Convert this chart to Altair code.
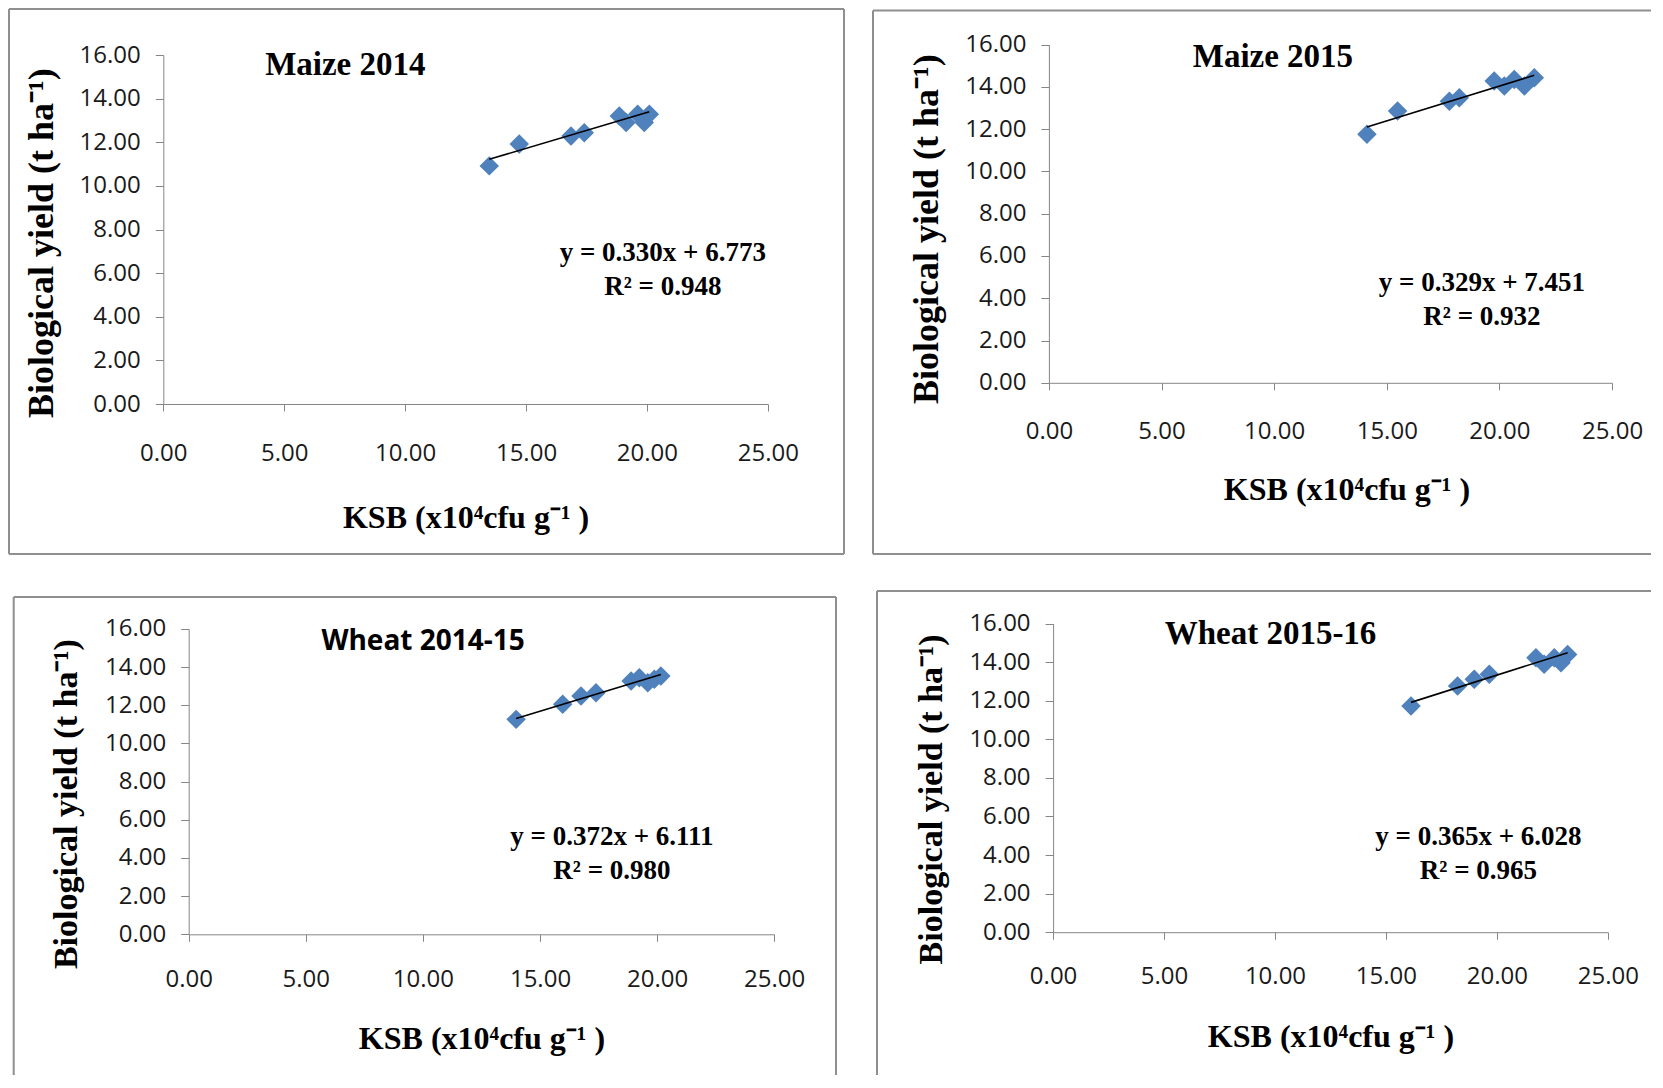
import altair as alt
import pandas as pd

# ---------------- data ----------------
maize14_x = [13.48, 14.72, 16.86, 17.41, 18.86, 19.14, 19.62, 19.89, 20.10]
maize14_y = [10.92, 11.92, 12.29, 12.44, 13.21, 12.91, 13.29, 12.91, 13.29]
maize14_fit = (0.330, 6.773, 0.948)

maize15_x = [14.12, 15.48, 17.78, 18.22, 19.77, 20.22, 20.66, 21.11, 21.55]
maize15_y = [11.75, 12.85, 13.32, 13.48, 14.27, 14.04, 14.35, 14.04, 14.43]
maize15_fit = (0.329, 7.451, 0.932)

wheat1415_x = [13.98, 15.97, 16.75, 17.39, 18.89, 19.24, 19.60, 19.88, 20.16]
wheat1415_y = [11.26, 12.05, 12.48, 12.66, 13.27, 13.44, 13.18, 13.36, 13.53]
wheat1415_fit = (0.372, 6.111, 0.980)

wheat1516_x = [16.13, 18.23, 18.98, 19.66, 21.76, 22.13, 22.59, 22.89, 23.19]
wheat1516_y = [11.73, 12.77, 13.11, 13.37, 14.23, 13.89, 14.23, 13.97, 14.40]
wheat1516_fit = (0.365, 6.028, 0.965)

x_ticks = [0, 5, 10, 15, 20, 25]
y_ticks = [0, 2, 4, 6, 8, 10, 12, 14, 16]
x_title = "KSB (x10\u2074cfu g\u207b\u00b9 )"
y_title = "Biological yield (t ha\u207b\u00b9)"

BLUE = "#4F81BD"
GREY = "#868686"
FRAME = "#8f8f8f"
SERIF = "Liberation Serif"
SANS = "Open Sans"


def one():
    return alt.Data(values=[{"k": 0}])


def hrule(x1, x2, y):
    return alt.Chart(one()).mark_rule(color=FRAME, strokeWidth=2).encode(
        x=alt.value(x1), x2=alt.value(x2), y=alt.value(y))


def vrule(x, y1, y2):
    return alt.Chart(one()).mark_rule(color=FRAME, strokeWidth=2).encode(
        x=alt.value(x), y=alt.value(y1), y2=alt.value(y2))


def label(txt, px, py, font, size):
    return alt.Chart(one()).mark_text(
        font=font, fontSize=size, fontWeight="bold", color="black",
        align="center", baseline="middle").encode(
        x=alt.value(px), y=alt.value(py), text=alt.value(txt))


def panel(name, xs, ys, fit, W, H, xr, yr, edges, title_font, title_size,
          title_pos, eq_pos, xlabpad, xtitle_y, ytitle_dy, ytitle_size=34,
          xtitle_dx=0):
    slope, intercept, r2 = fit
    xl, xrt = xr
    yt, yb = yr
    pw = xrt - xl
    ph = yb - yt
    df = pd.DataFrame({"x": xs, "y": ys})
    xmin, xmax = min(xs), max(xs)
    fit_df = pd.DataFrame({"x": [xmin, xmax],
                           "y": [slope * xmin + intercept, slope * xmax + intercept]})

    xaxis = alt.Axis(values=x_ticks, format=".2f", grid=False, tickSize=7,
                     offset=-(H - yb),
                     labelPadding=xlabpad, labelFlush=False, labelOverlap=False,
                     domainColor=GREY, tickColor=GREY, labelFont=SANS,
                     labelFontSize=24, labelColor="#1a1a1a",
                     title=x_title, titleFont=SERIF, titleFontSize=32,
                     titleFontWeight="bold", titleColor="black",
                     titleX=xl + pw / 2 + xtitle_dx, titleY=xtitle_y,
                     titleBaseline="middle", titleAlign="center")
    yaxis = alt.Axis(values=y_ticks, format=".2f", grid=False, tickSize=8,
                     offset=-xl,
                     labelPadding=15, labelOverlap=False, labelFlush=False,
                     domainColor=GREY, tickColor=GREY,
                     labelFont=SANS, labelFontSize=24, labelColor="#1a1a1a",
                     title=y_title, titleFont=SERIF, titleFontSize=ytitle_size,
                     titleFontWeight="bold", titleColor="black",
                     titleX=-122, titleY=yt + ph / 2 + ytitle_dy,
                     titleBaseline="middle", titleAlign="center", titleAngle=270)
    xscale = alt.Scale(domain=[0, 25], range=[xl, xrt], nice=False)
    yscale = alt.Scale(domain=[0, 16], range=[yb, yt], nice=False)

    pts = alt.Chart(df).mark_point(shape="diamond", filled=True, size=380,
                                   color=BLUE, opacity=1).encode(
        x=alt.X("x:Q", scale=xscale, axis=xaxis),
        y=alt.Y("y:Q", scale=yscale, axis=yaxis))
    line = alt.Chart(fit_df).mark_line(color="black", strokeWidth=1.6).encode(
        x=alt.X("x:Q", scale=xscale, axis=xaxis),
        y=alt.Y("y:Q", scale=yscale, axis=yaxis))

    layers = []
    for e in edges:
        if e[0] == "h":
            layers.append(hrule(e[1], e[2], e[3]))
        else:
            layers.append(vrule(e[1], e[2], e[3]))
    layers += [pts, line,
               label(name, xl + title_pos[0], yt + title_pos[1], title_font, title_size),
               label(f"y = {slope:.3f}x + {intercept:.3f}",
                     xl + eq_pos[0], yt + eq_pos[1], SERIF, 27),
               label(f"R\u00b2 = {r2:.3f}",
                     xl + eq_pos[0], yt + eq_pos[1] + 34, SERIF, 27)]
    return alt.layer(*layers).properties(width=W, height=H)


W1, H1 = 835, 545
W2, H2 = 778, 545
W3, H3 = 827, 484
W4, H4 = 774, 484

p1 = panel("Maize 2014", maize14_x, maize14_y, maize14_fit,
           W=W1, H=H1, xr=(154.3, 758.8), yr=(46.1, 395),
           edges=[("h", 0, W1, 0), ("h", 0, W1, H1), ("v", 0, 0, H1), ("v", W1, 0, H1)],
           title_font=SERIF, title_size=33, title_pos=(182, 9.5),
           eq_pos=(499.5, 198), xlabpad=30, xtitle_y=113,
           ytitle_dy=13, ytitle_size=36)
p2 = panel("Maize 2015", maize15_x, maize15_y, maize15_fit,
           W=W2, H=H2, xr=(175.9, 739), yr=(35.5, 373.8),
           edges=[("h", 0, W2, 1.5), ("h", 0, W2, H2), ("v", 0, 1.5, H2)],
           title_font=SERIF, title_size=33, title_pos=(224, 12.7),
           eq_pos=(433, 238.6), xlabpad=30, xtitle_y=107,
           ytitle_dy=15, ytitle_size=36, xtitle_dx=16)
p3 = panel("Wheat 2014-15", wheat1415_x, wheat1415_y, wheat1415_fit,
           W=W3, H=H3, xr=(179.7, 765.2), yr=(37.9, 343.3),
           edges=[("h", 4.7, W3, 6), ("v", 4.7, 6, H3), ("v", W3, 6, H3)],
           title_font=SANS, title_size=28, title_pos=(234.4, 12.7),
           eq_pos=(423.2, 207.8), xlabpad=26.5, xtitle_y=104,
           ytitle_dy=22, ytitle_size=34)
p4 = panel("Wheat 2015-16", wheat1516_x, wheat1516_y, wheat1516_fit,
           W=W4, H=H4, xr=(176.1, 730.8), yr=(32.6, 341.2),
           edges=[("h", 0, W4, 0), ("v", 0, 0, H4)],
           title_font=SERIF, title_size=33, title_pos=(217.4, 10.6),
           eq_pos=(425.3, 213.1), xlabpad=25.5, xtitle_y=104,
           ytitle_dy=21, ytitle_size=34)

chart = alt.vconcat(
    alt.hconcat(p1, p2, spacing=27),
    alt.hconcat(p3, p4, spacing=39),
    spacing=35,
).properties(padding=0).configure_view(stroke=None).configure_axis(labelOverlap=False)

chart.save("out.html", embed_options={"renderer": "svg", "actions": False})
